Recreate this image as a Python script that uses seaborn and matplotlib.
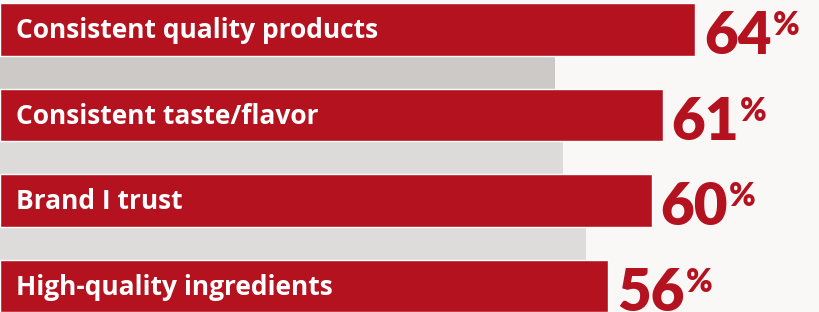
import matplotlib.pyplot as plt
import pandas as pd
import seaborn as sns

attributes = [
    "Consistent quality products",
    "Consistent taste/flavor",
    "Brand I trust",
    "High-quality ingredients",
]
shares = [64, 61, 60, 56]

# grey photo bands behind the bars (right edge in % units, colour)
band_edges = [51.1, 51.8, 54.0]
band_colors = ["#cdc9c6", "#dcdbda", "#dddcdb"]

RED = "#b5121f"
BG = "#faf8f6"


def main():
    df = pd.DataFrame({"attribute": attributes, "share": shares})

    sns.set_style("white")
    fig = plt.figure(figsize=(8.2, 3.12), dpi=100, facecolor=BG)
    ax = fig.add_axes([0, 0, 1, 1])
    ax.set_facecolor(BG)

    # background stripes between the bars
    for i, (edge, col) in enumerate(zip(band_edges, band_colors)):
        ax.fill_between([0, edge], i + 0.3, i + 0.7, color=col, lw=0, zorder=0)

    sns.barplot(
        data=df,
        x="share",
        y="attribute",
        orient="h",
        color=RED,
        saturation=1,
        width=0.61,
        ax=ax,
        zorder=2,
    )

    ax.set_xlim(0, 75.5)
    ax.set_ylim(3.304, -0.345)
    ax.set_axis_off()

    fig.canvas.draw()
    renderer = fig.canvas.get_renderer()

    for i, (label, val) in enumerate(zip(attributes, shares)):
        ax.annotate(
            label, (0, i), xytext=(16, -1), textcoords="offset pixels",
            ha="left", va="center", color="white",
            fontsize=19, fontweight="bold", family="Open Sans", zorder=3,
        )
        num = ax.annotate(
            str(val), (val, i + 0.29), xytext=(9, 0), textcoords="offset pixels",
            ha="left", va="baseline", color=RED,
            fontsize=42, fontweight="heavy", family="Lato", zorder=3,
        )
        bb = num.get_window_extent(renderer)
        pct_x, pct_y = ax.transData.inverted().transform((bb.x1 + 1, bb.y1 - 1))
        ax.text(
            pct_x, pct_y, "%", ha="left", va="top", color=RED,
            fontsize=23, fontweight="heavy", family="Lato", zorder=3,
        )

    fig.savefig("out.png", dpi=100, facecolor=BG)


if __name__ == "__main__":
    main()
